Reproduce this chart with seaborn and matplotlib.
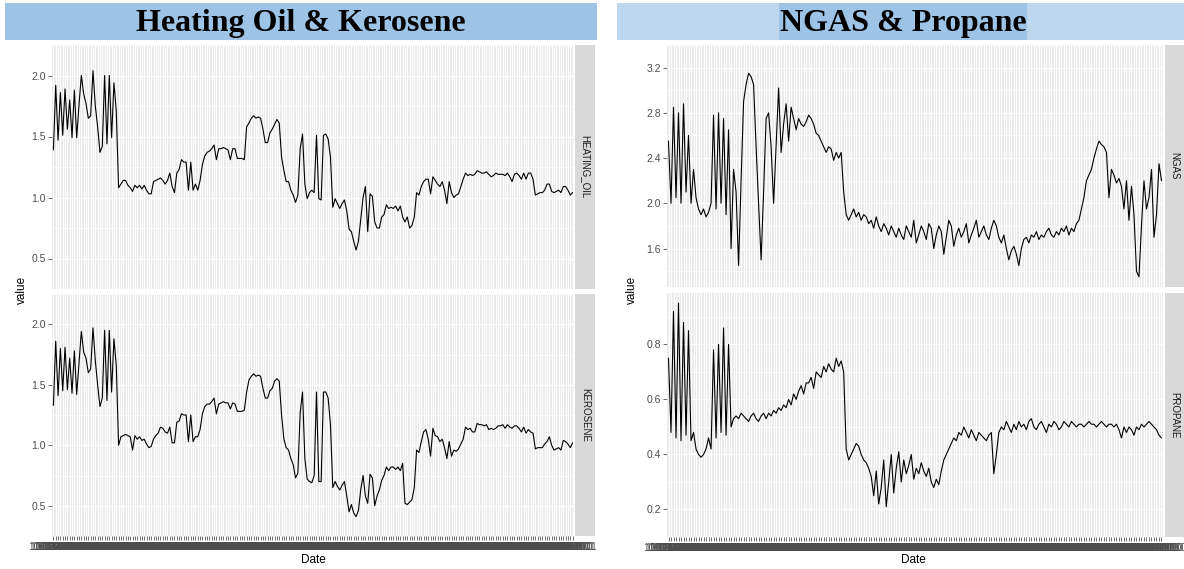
import numpy as np
import pandas as pd
import matplotlib
matplotlib.use("Agg")
import matplotlib.pyplot as plt
import seaborn as sns
from matplotlib.patches import Rectangle

# ---------------- data ----------------
heating_oil = [
    1.39, 1.92, 1.47, 1.86, 1.51, 1.89, 1.56, 1.80, 1.49, 1.88, 1.49, 1.76,
    2.00, 1.85, 1.77, 1.65, 1.67, 2.04, 1.75, 1.58, 1.37, 1.42, 2.00, 1.44, 2.00, 1.49,
    1.94, 1.71,
    1.08, 1.11, 1.14, 1.14, 1.10, 1.08, 1.05, 1.10, 1.08, 1.10,
    1.07, 1.10, 1.06, 1.03, 1.03, 1.13, 1.14, 1.15, 1.16, 1.14,
    1.11, 1.14, 1.20, 1.09, 1.04, 1.20, 1.23, 1.31, 1.29, 1.29,
    1.06, 1.29, 1.06, 1.11, 1.06, 1.14, 1.27, 1.34, 1.37, 1.38,
    1.40, 1.43, 1.31, 1.40, 1.40, 1.41, 1.40, 1.39, 1.31, 1.40,
    1.40, 1.32, 1.32, 1.32, 1.31, 1.58, 1.61, 1.65, 1.67, 1.65,
    1.66, 1.65, 1.56, 1.45, 1.45, 1.53, 1.56, 1.60, 1.64, 1.61,
    1.33, 1.22, 1.13, 1.13, 1.06, 1.02, 0.96, 1.02, 1.40, 1.52,
    1.11, 0.99, 1.04, 1.06, 1.04,
    1.51, 0.99, 0.98, 1.51, 1.52, 1.48, 1.33, 0.92, 0.99, 0.95,
    0.91, 0.95, 0.98, 0.89, 0.74, 0.72, 0.64, 0.57, 0.64, 0.82,
    1.00, 1.09, 0.72, 1.03, 1.01, 0.80, 0.75, 0.75, 0.84, 0.86,
    0.94, 0.91, 0.92, 0.91, 0.93, 0.89, 0.93, 0.84, 0.80, 0.84,
    0.75, 0.77, 0.84, 1.04, 1.02, 1.09, 1.13, 1.15, 1.15, 1.03,
    1.17, 1.14, 1.11, 1.09, 1.13, 1.06, 0.95, 1.13, 1.04, 1.00,
    1.02, 1.03, 1.09, 1.15, 1.20, 1.18, 1.19, 1.18, 1.19, 1.22,
    1.21, 1.20, 1.20, 1.21, 1.19, 1.17, 1.18, 1.20, 1.19, 1.19,
    1.19, 1.18, 1.20, 1.17, 1.13, 1.19, 1.20, 1.18, 1.15, 1.20,
    1.15, 1.20, 1.20, 1.15, 1.02, 1.03, 1.04, 1.04, 1.06, 1.11,
    1.11, 1.05, 1.04, 1.05, 1.06, 1.04, 1.09, 1.09, 1.06, 1.02,
    1.04,
]

kerosene = [
    1.33, 1.86, 1.41, 1.80, 1.45, 1.81, 1.46, 1.72, 1.43, 1.78, 1.42, 1.68,
    1.94, 1.77, 1.72, 1.60, 1.63, 1.97, 1.70, 1.50, 1.32, 1.39, 1.95, 1.37, 1.95, 1.44,
    1.88, 1.66,
    1.00, 1.07, 1.08, 1.09, 1.08, 1.07, 0.96, 1.08, 1.05, 1.07,
    1.04, 1.05, 1.01, 0.98, 0.99, 1.05, 1.08, 1.10, 1.15, 1.14,
    1.11, 1.10, 1.15, 1.02, 1.02, 1.19, 1.20, 1.26, 1.25, 1.25,
    1.03, 1.25, 1.03, 1.07, 1.07, 1.13, 1.26, 1.32, 1.34, 1.34,
    1.36, 1.39, 1.26, 1.34, 1.35, 1.36, 1.35, 1.35, 1.30, 1.35,
    1.34, 1.28, 1.28, 1.28, 1.29, 1.44, 1.54, 1.57, 1.59, 1.57,
    1.58, 1.57, 1.47, 1.39, 1.39, 1.45, 1.47, 1.53, 1.55, 1.53,
    1.25, 1.05, 0.98, 0.96, 0.89, 0.84, 0.73, 0.77, 1.27, 1.44,
    0.89, 0.72, 0.70, 0.69, 0.75,
    1.44, 0.70, 0.70, 1.44, 1.44, 1.39, 1.17, 0.65, 0.70, 0.66,
    0.63, 0.67, 0.70, 0.58, 0.45, 0.51, 0.44, 0.41, 0.46, 0.63,
    0.75, 0.58, 0.52, 0.76, 0.73, 0.50, 0.58, 0.63, 0.71, 0.75,
    0.82, 0.79, 0.82, 0.82, 0.80, 0.82, 0.79, 0.85, 0.52, 0.51,
    0.53, 0.55, 0.65, 0.96, 0.94, 1.03, 1.11, 1.13, 1.05, 0.91,
    1.14, 1.08, 1.07, 1.03, 1.05, 0.98, 0.89, 1.03, 0.91, 0.96,
    0.95, 0.97, 1.01, 1.05, 1.15, 1.13, 1.14, 1.11, 1.11, 1.18,
    1.17, 1.17, 1.16, 1.17, 1.13, 1.14, 1.13, 1.14, 1.16, 1.16,
    1.17, 1.14, 1.17, 1.15, 1.14, 1.16, 1.16, 1.14, 1.11, 1.15,
    1.10, 1.13, 1.11, 1.10, 0.97, 0.98, 0.98, 0.98, 1.01, 1.03,
    1.07, 1.00, 0.96, 0.97, 0.98, 0.96, 1.04, 1.03, 1.01, 0.98,
    1.02,
]

ngas = [
    2.55, 2.00, 2.85, 2.05, 2.80, 2.00, 2.88, 2.10, 2.60, 2.00, 2.30, 2.05, 1.95,
    1.90, 1.95, 1.88, 1.92, 2.00,
    2.78, 1.95, 2.80, 2.00, 2.75, 1.90, 2.65,
    1.60, 2.30, 2.10, 1.45, 2.20, 2.90,
    3.05, 3.15, 3.12, 3.05, 2.50, 2.00, 1.50, 2.10, 2.75,
    2.80, 2.50, 2.00, 2.50, 3.02, 2.45, 2.70, 2.88, 2.55, 2.85, 2.75,
    2.65, 2.75, 2.70, 2.68, 2.72, 2.78, 2.75, 2.70, 2.62, 2.60, 2.55,
    2.50, 2.45, 2.50, 2.48, 2.38, 2.45, 2.40, 2.45, 2.10, 1.90, 1.85,
    1.90, 1.95, 1.88, 1.92, 1.85, 1.90, 1.88, 1.82,
    1.85, 1.78, 1.88, 1.80, 1.75, 1.82, 1.78, 1.72, 1.80, 1.75, 1.70, 1.78,
    1.72, 1.68, 1.80, 1.75, 1.70, 1.85, 1.65, 1.72, 1.80, 1.75, 1.68, 1.82,
    1.78, 1.60, 1.72, 1.80, 1.75, 1.55, 1.70, 1.85, 1.80, 1.62, 1.72, 1.78,
    1.70, 1.75, 1.82, 1.65, 1.72, 1.78, 1.85, 1.70, 1.75, 1.80, 1.72, 1.68, 1.78, 1.85, 1.80, 1.70,
    1.65, 1.72, 1.60, 1.50, 1.58, 1.62, 1.55, 1.45, 1.60, 1.68, 1.70, 1.65, 1.72, 1.70, 1.75, 1.68,
    1.72, 1.70, 1.75, 1.78, 1.72, 1.70, 1.75, 1.72, 1.78, 1.75, 1.80, 1.72, 1.78, 1.75, 1.82, 1.85,
    1.95, 2.05, 2.20, 2.25, 2.30, 2.40, 2.48, 2.55, 2.52, 2.50, 2.45,
    2.05, 2.30, 2.25, 2.18, 2.22, 2.15, 1.95, 2.20, 1.85, 2.15, 1.90,
    1.40, 1.35, 1.80, 2.20, 1.95, 2.05, 2.30, 1.70, 1.90, 2.35, 2.20,
]

propane = [
    0.75, 0.48, 0.92, 0.46, 0.95, 0.45, 0.88, 0.47, 0.85, 0.45, 0.48, 0.42, 0.40,
    0.39, 0.40, 0.42, 0.46, 0.42,
    0.78, 0.46, 0.80, 0.48, 0.86, 0.47, 0.80,
    0.50, 0.53, 0.54, 0.53, 0.55, 0.54,
    0.53, 0.52, 0.54, 0.55, 0.53, 0.52, 0.54, 0.55, 0.53,
    0.55, 0.54, 0.56, 0.55, 0.57, 0.56, 0.58, 0.57, 0.60, 0.58, 0.62,
    0.60, 0.63, 0.65, 0.62, 0.66, 0.66, 0.68, 0.64, 0.70, 0.69, 0.68,
    0.72, 0.70, 0.73, 0.71, 0.70, 0.75, 0.72, 0.74, 0.70, 0.42, 0.38,
    0.40, 0.42, 0.44, 0.43, 0.40, 0.38, 0.37, 0.35,
    0.32, 0.25, 0.34, 0.22, 0.28, 0.38, 0.21, 0.30, 0.40, 0.26, 0.35, 0.41,
    0.30, 0.38, 0.33, 0.36, 0.40, 0.31, 0.35, 0.33, 0.37, 0.34, 0.32, 0.35,
    0.30, 0.28, 0.31, 0.29, 0.34, 0.38, 0.40, 0.42, 0.44, 0.46, 0.45, 0.48,
    0.47, 0.50, 0.48, 0.46, 0.49, 0.47, 0.45, 0.48, 0.47, 0.46, 0.45, 0.47, 0.48, 0.33, 0.40, 0.48,
    0.50, 0.49, 0.52, 0.50, 0.48, 0.51, 0.49, 0.52, 0.50, 0.51, 0.49, 0.52, 0.53, 0.50, 0.49, 0.51,
    0.52, 0.50, 0.48, 0.51, 0.50, 0.52, 0.51, 0.49, 0.50, 0.52, 0.51, 0.50, 0.52, 0.51, 0.50, 0.51,
    0.51, 0.50, 0.51, 0.52, 0.51, 0.51, 0.50, 0.51, 0.52, 0.51, 0.50,
    0.51, 0.51, 0.50, 0.51, 0.49, 0.46, 0.50, 0.48, 0.50, 0.49, 0.47,
    0.50, 0.49, 0.51, 0.50, 0.51, 0.52, 0.51, 0.50, 0.49, 0.47, 0.46,
]

oil_dates = pd.date_range("2006-10-02", periods=len(heating_oil), freq="W-MON").strftime("%m/%d/%Y").tolist()
gas_dates = pd.date_range("2006-10-02", periods=len(ngas), freq="W-MON").strftime("%m/%d/%Y").tolist()

oil_ticks = [0.5, 1.0, 1.5, 2.0]
ngas_ticks = [1.6, 2.0, 2.4, 2.8, 3.2]
propane_ticks = [0.2, 0.4, 0.6, 0.8]

# ---------------- styling ----------------
sns.set_theme(style="white")
plt.rcParams["font.family"] = ["Liberation Sans", "DejaVu Sans"]

W, H = 1184, 569
fig = plt.figure(figsize=(W / 100, H / 100), dpi=100)
fig.patch.set_facecolor("white")


def box(x0, y0, x1, y1):
    return [x0 / W, 1 - y1 / H, (x1 - x0) / W, (y1 - y0) / H]


def facet(rect, values, dates, yticks, show_x):
    ax = fig.add_axes(box(*rect))
    n = len(values)
    df = pd.DataFrame({"Date": np.arange(n), "value": values})
    sns.lineplot(data=df, x="Date", y="value", ax=ax, color="black", linewidth=0.8)
    ax.set_facecolor("#EBEBEB")
    lo, hi = min(values), max(values)
    r = hi - lo
    ax.set_ylim(lo - 0.05 * r, hi + 0.05 * r)
    ax.set_xlim(-0.6, n - 1 + 0.6)
    step = yticks[1] - yticks[0]
    ax.set_yticks(yticks)
    ax.set_yticklabels([f"{t:.1f}" for t in yticks])
    minors = [yticks[0] - step / 2] + [t + step / 2 for t in yticks]
    ax.set_yticks(minors, minor=True)
    ax.set_xticks(np.arange(n))
    ax.grid(which="major", axis="y", color="white", linewidth=1.0)
    ax.grid(which="minor", axis="y", color="white", linewidth=0.5)
    ax.grid(which="major", axis="x", color="white", linewidth=0.7)
    ax.set_axisbelow(True)
    for s in ax.spines.values():
        s.set_visible(False)
    ax.tick_params(axis="y", which="major", length=2.75, width=0.5, color="#333333",
                   labelsize=7.5, labelcolor="#4D4D4D", pad=1.5, left=True)
    ax.tick_params(axis="y", which="minor", length=0)
    if show_x:
        ax.set_xticklabels(dates)
        ax.tick_params(axis="x", length=2.75, width=0.5, color="#333333",
                       labelsize=7.2, labelcolor="#4D4D4D", pad=1.5, bottom=True)
    else:
        ax.tick_params(axis="x", length=0, labelbottom=False)
    ax.set_xlabel("")
    ax.set_ylabel("")
    return ax


def strip(rect, label):
    ax = fig.add_axes(box(*rect))
    ax.set_facecolor("#D9D9D9")
    ax.set_xticks([])
    ax.set_yticks([])
    for s in ax.spines.values():
        s.set_visible(False)
    ax.text(0.5, 0.5, label, rotation=-90, ha="center", va="center",
            fontsize=7, color="#1A1A1A", transform=ax.transAxes)


# left block: heating oil & kerosene
facet((52, 45, 574, 289), heating_oil, oil_dates, oil_ticks, False)
facet((52, 294, 574, 536), kerosene, oil_dates, oil_ticks, True)
strip((575, 45, 595, 289), "HEATING_OIL")
strip((575, 294, 595, 536), "KEROSENE")

# right block: natural gas & propane
facet((667, 45, 1163, 287), ngas, gas_dates, ngas_ticks, False)
facet((667, 293, 1163, 537), propane, gas_dates, propane_ticks, True)
strip((1165, 45, 1184, 287), "NGAS")
strip((1165, 293, 1184, 537), "PROPANE")

# axis titles
for cx in (22, 632):
    fig.text(cx / W, 1 - 290 / H, "value", rotation=90, ha="center", va="center",
             fontsize=8.5, color="black")
for cx in (313, 913):
    fig.text(cx / W, 1 - 560 / H, "Date", ha="center", va="center", fontsize=8.5, color="black")

# title banners
fig.patches.append(Rectangle((5 / W, 1 - 40 / H), 592 / W, 37 / H, transform=fig.transFigure,
                             facecolor="#9DC3E6", edgecolor="none", zorder=0))
fig.patches.append(Rectangle((617 / W, 1 - 40 / H), 567 / W, 37 / H, transform=fig.transFigure,
                             facecolor="#BDD7EE", edgecolor="none", zorder=0))
fig.patches.append(Rectangle((779 / W, 1 - 40 / H), 248 / W, 37 / H, transform=fig.transFigure,
                             facecolor="#9DC3E6", edgecolor="none", zorder=0))
fig.text(301 / W, 1 - 24 / H, "Heating Oil & Kerosene", ha="center", va="center",
         fontsize=23, fontweight="bold", family=["Liberation Serif", "DejaVu Serif"], color="black")
fig.text(903 / W, 1 - 24 / H, "NGAS & Propane", ha="center", va="center",
         fontsize=23, fontweight="bold", family=["Liberation Serif", "DejaVu Serif"], color="black")

fig.savefig("out.png", dpi=100)
